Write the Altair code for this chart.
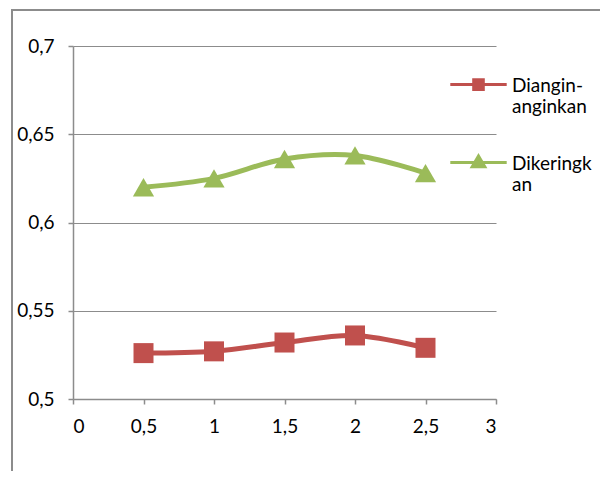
import altair as alt
import pandas as pd

# ---- data ----
series = ["Diangin-anginkan", "Dikeringkan"]
x_vals = [0.5, 1.0, 1.5, 2.0, 2.5]
diangin = [0.526, 0.527, 0.532, 0.536, 0.529]
dikeringkan = [0.620, 0.625, 0.636, 0.638, 0.628]
x_ticks = [0, 0.5, 1, 1.5, 2, 2.5, 3]
y_ticks = [0.5, 0.55, 0.6, 0.65, 0.7]
colors = ["#C0504D", "#9BBB59"]

rows = []
for xv, a, b in zip(x_vals, diangin, dikeringkan):
    rows.append({"x": xv, "y": a, "series": series[0]})
    rows.append({"x": xv, "y": b, "series": series[1]})
df = pd.DataFrame(rows)

FONT = "Lato"
FS = 19
GRAY = "#8C8C8C"

xenc = alt.X(
    "x:Q",
    scale=alt.Scale(domain=[0, 3], nice=False),
    axis=alt.Axis(
        values=x_ticks, grid=False, title=None, tickSize=5, labelPadding=13,
        labelExpr="replace(format(datum.value, '~g'), '.', ',')",
    ),
)
yenc = alt.Y(
    "y:Q",
    scale=alt.Scale(domain=[0.5, 0.7], nice=False, zero=False),
    axis=alt.Axis(
        values=y_ticks, grid=True, title=None, tickSize=5, labelPadding=14,
        labelExpr="replace(format(datum.value, '~g'), '.', ',')",
    ),
)
cscale = alt.Scale(domain=series, range=colors)

base = alt.Chart(df)

leg = dict(
    title=None, orient="none", legendX=396, legendY=21, padding=0,
    labelFont=FONT, labelFontSize=FS, labelColor="#000000",
    labelExpr="datum.label == 'Diangin-anginkan' ? ['Diangin-', 'anginkan'] : ['Dikeringk', 'an']",
    labelBaseline="top", labelOffset=24, rowPadding=28,
    symbolSize=144, symbolStrokeWidth=3, symbolOpacity=1,
)
# legend symbols: a short line with the marker, drawn level with the first text line
paths = [
    "M-4.7,1.35H4.7M-0.8,0.55H0.8V2.15H-0.8Z",
    "M-4.7,1.35H4.7M0,0.25L1.05,2.05H-1.05Z",
]
legend_layer = base.transform_filter("false").mark_point(filled=True, opacity=1).encode(
    x=xenc, y=yenc,
    color=alt.Color("series:N", scale=cscale, legend=alt.Legend(**leg)),
    stroke=alt.Stroke("series:N", scale=cscale, legend=alt.Legend(**leg)),
    shape=alt.Shape("series:N", scale=alt.Scale(domain=series, range=paths), legend=alt.Legend(**leg)),
)

layers = []
shapes = ["square", "triangle-up"]
sizes = [400, 450]
for s, c in zip(series, colors):
    sub = base.transform_filter(alt.datum.series == s)
    layers.append(sub.mark_line(interpolate="cardinal", strokeWidth=5, color=c).encode(x=xenc, y=yenc))
for s, c, sh, sz in zip(series, colors, shapes, sizes):
    sub = base.transform_filter(alt.datum.series == s)
    layers.append(sub.mark_point(shape=sh, filled=True, size=sz, opacity=1, color=c).encode(x=xenc, y=yenc))

one = pd.DataFrame({"a": [0]})
frame_left = alt.Chart(one).mark_rule(stroke=GRAY, strokeWidth=2).encode(
    x=alt.value(-61), y=alt.value(-37), y2=alt.value(430))
frame_top = alt.Chart(one).mark_rule(stroke=GRAY, strokeWidth=2).encode(
    x=alt.value(-62), x2=alt.value(530), y=alt.value(-36))

chart = alt.layer(legend_layer, frame_left, frame_top, *layers).properties(
    width=423, height=353,
    autosize=alt.AutoSizeParams(type="none"),
    padding={"left": 65, "top": 38, "right": 104, "bottom": 72},
).configure_view(stroke=None).configure_axis(
    domainColor=GRAY, tickColor=GRAY, gridColor=GRAY, domainWidth=1.5, gridWidth=1.2,
    tickWidth=1.5, labelFont=FONT, labelFontSize=FS, labelColor="#000000",
)

chart.save("out.html", embed_options={"renderer": "svg", "actions": False})
